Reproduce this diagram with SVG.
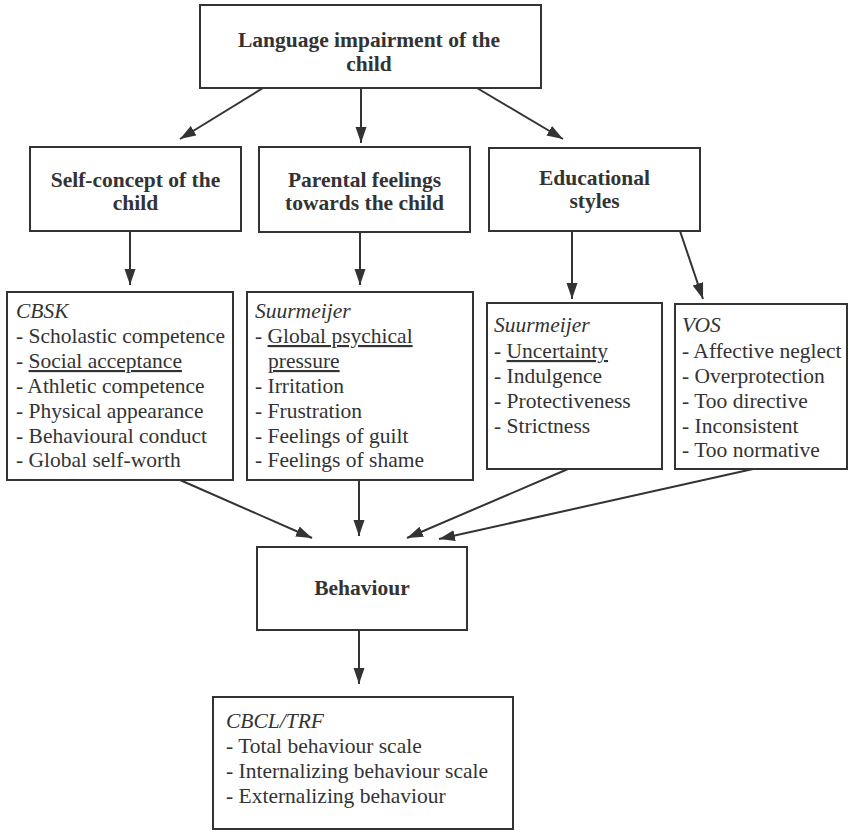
<svg xmlns="http://www.w3.org/2000/svg" width="851" height="831" viewBox="0 0 851 831">
<defs>
<style>
.box{fill:#fff;stroke:#333;stroke-width:2}
.h{font-family:"Liberation Serif","Times New Roman",serif;font-weight:bold;font-size:21.5px;fill:#333;text-anchor:middle}
.t{font-family:"Liberation Serif","Times New Roman",serif;font-size:21.5px;fill:#333}
.i{font-style:italic}
.u{text-decoration:underline}
.c line{stroke:#333;stroke-width:2;marker-end:url(#ah)}
</style>
<marker id="ah" markerUnits="userSpaceOnUse" markerWidth="17" markerHeight="12" refX="16" refY="5.5" orient="auto">
<path d="M0,0 L16,5.5 L0,11 z" fill="#333"/>
</marker>
</defs>
<rect width="851" height="831" fill="#fff"/>
<g class="c" id="connectors">
<line x1="263" y1="88" x2="180" y2="139"/>
<line x1="361" y1="88" x2="361" y2="143"/>
<line x1="477" y1="88" x2="563" y2="139"/>
<line x1="130" y1="231" x2="130" y2="285"/>
<line x1="360" y1="232" x2="360" y2="285"/>
<line x1="572" y1="231" x2="572" y2="299"/>
<line x1="680" y1="231" x2="703" y2="299"/>
<line x1="180" y1="480" x2="312" y2="538"/>
<line x1="359" y1="480" x2="359" y2="536"/>
<line x1="568" y1="469" x2="407" y2="538"/>
<line x1="753" y1="469" x2="439" y2="539"/>
<line x1="359" y1="630" x2="359" y2="684"/>
</g>
<g id="language">
<rect class="box" x="200" y="5" width="341" height="83"/>
<text class="h" x="369" y="47">Language impairment of the</text>
<text class="h" x="369" y="71">child</text>
</g>
<g id="selfconcept">
<rect class="box" x="30" y="147" width="211" height="84"/>
<text class="h" x="135.5" y="187">Self-concept of the</text>
<text class="h" x="135.5" y="210">child</text>
</g>
<g id="parental">
<rect class="box" x="259" y="147" width="211" height="85"/>
<text class="h" x="364.5" y="187">Parental feelings</text>
<text class="h" x="364.5" y="210">towards the child</text>
</g>
<g id="educational">
<rect class="box" x="489" y="148" width="211" height="83"/>
<text class="h" x="594.5" y="185">Educational</text>
<text class="h" x="594.5" y="208">styles</text>
</g>
<g id="cbsk">
<rect class="box" x="7" y="292" width="226" height="188"/>
<text class="t" x="16" y="318"><tspan class="i">CBSK</tspan></text>
<text class="t" x="16" y="343">- Scholastic competence</text>
<text class="t" x="16" y="368">- <tspan class="u">Social acceptance</tspan></text>
<text class="t" x="16" y="393">- Athletic competence</text>
<text class="t" x="16" y="418">- Physical appearance</text>
<text class="t" x="16" y="443">- Behavioural conduct</text>
<text class="t" x="16" y="467">- Global self-worth</text>
</g>
<g id="suurmeijer1">
<rect class="box" x="247" y="292" width="226" height="188"/>
<text class="t" x="255" y="318"><tspan class="i">Suurmeijer</tspan></text>
<text class="t" x="255" y="343">- <tspan class="u">Global psychical</tspan></text>
<text class="t" x="268" y="368"><tspan class="u">pressure</tspan></text>
<text class="t" x="255" y="393">- Irritation</text>
<text class="t" x="255" y="418">- Frustration</text>
<text class="t" x="255" y="443">- Feelings of guilt</text>
<text class="t" x="255" y="467">- Feelings of shame</text>
</g>
<g id="suurmeijer2">
<rect class="box" x="487" y="303" width="175" height="166"/>
<text class="t" x="494" y="332"><tspan class="i">Suurmeijer</tspan></text>
<text class="t" x="494" y="358">- <tspan class="u">Uncertainty</tspan></text>
<text class="t" x="494" y="383">- Indulgence</text>
<text class="t" x="494" y="408">- Protectiveness</text>
<text class="t" x="494" y="433">- Strictness</text>
</g>
<g id="vos">
<rect class="box" x="675" y="304" width="172" height="165"/>
<text class="t" x="682" y="332"><tspan class="i">VOS</tspan></text>
<text class="t" x="682" y="358">- Affective neglect</text>
<text class="t" x="682" y="383">- Overprotection</text>
<text class="t" x="682" y="408">- Too directive</text>
<text class="t" x="682" y="433">- Inconsistent</text>
<text class="t" x="682" y="457">- Too normative</text>
</g>
<g id="behaviour">
<rect class="box" x="257" y="547" width="210" height="83"/>
<text class="h" x="362" y="595">Behaviour</text>
</g>
<g id="cbcl">
<rect class="box" x="213" y="697" width="300" height="132"/>
<text class="t" x="226" y="728"><tspan class="i">CBCL/TRF</tspan></text>
<text class="t" x="226" y="753">- Total behaviour scale</text>
<text class="t" x="226" y="778">- Internalizing behaviour scale</text>
<text class="t" x="226" y="803">- Externalizing behaviour</text>
</g>
</svg>
